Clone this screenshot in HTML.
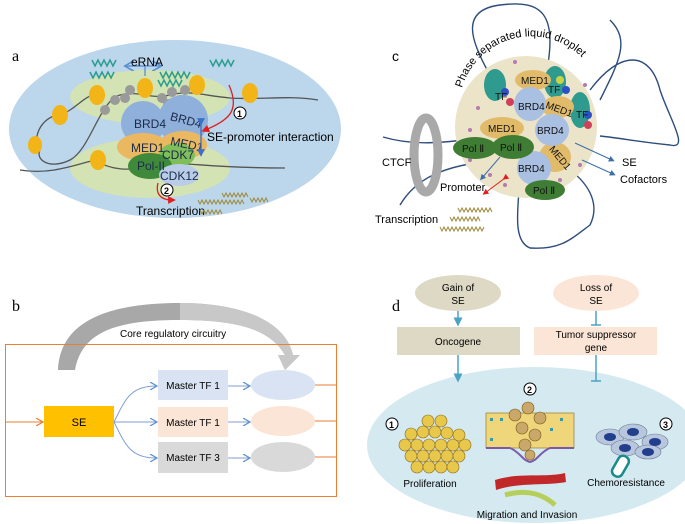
<!DOCTYPE html>
<html><head><meta charset="utf-8"><style>
html,body{margin:0;padding:0;background:#fff;}
svg{display:block;font-family:"Liberation Sans",sans-serif;}
</style></head><body>
<svg width="685" height="524" viewBox="0 0 685 524" xmlns="http://www.w3.org/2000/svg">
<defs>
<marker id="ab" markerWidth="8" markerHeight="8" refX="6" refY="4" orient="auto"><path d="M0,0 L7,4 L0,8" fill="none" stroke="#5b8fd0" stroke-width="1.2"/></marker>
<marker id="ao" markerWidth="8" markerHeight="8" refX="6" refY="4" orient="auto"><path d="M0,0 L7,4 L0,8" fill="none" stroke="#ed7d31" stroke-width="1.2"/></marker>
<marker id="at" markerWidth="6" markerHeight="6" refX="3" refY="3" orient="auto"><path d="M0,0 L6,3 L0,6z" fill="#4aa3c4"/></marker>
<marker id="ar" markerWidth="6" markerHeight="6" refX="3" refY="3" orient="auto"><path d="M0,0 L6,3 L0,6z" fill="#e02020"/></marker>
<marker id="ad" markerWidth="6" markerHeight="6" refX="3" refY="3" orient="auto"><path d="M0,0 L6,3 L0,6z" fill="#3d6fa8"/></marker>
<marker id="abl" markerWidth="6" markerHeight="6" refX="3" refY="3" orient="auto"><path d="M0,0 L6,3 L0,6z" fill="#3a70c8"/></marker>
<path id="arcp" d="M462,88 A72,72 0 0 1 592,70"/>
</defs>

<!-- PANEL A -->
<text x="12" y="61" font-family="Liberation Serif" font-size="16">a</text>
<ellipse cx="175" cy="129" rx="166" ry="89" fill="#bcd6eb"/>
<ellipse cx="150" cy="97" rx="80" ry="27" fill="#d3e3b3"/>
<ellipse cx="150" cy="168" rx="80" ry="30" fill="#d3e3b3"/>
<path d="M40,150 C35,160 50,170 70,160 C90,150 100,100 120,95 C140,90 150,100 170,95 C190,90 200,95 230,98 C260,100 290,95 318,100" fill="none" stroke="#555" stroke-width="1.3"/>
<path d="M40,150 C30,135 45,115 60,115 C75,110 85,95 95,95" fill="none" stroke="#555" stroke-width="1.3"/>
<path d="M20,170 C50,175 75,165 95,160 C110,170 130,172 150,165 C180,160 200,168 285,168" fill="none" stroke="#555" stroke-width="1.3"/>
<g fill="#f3b417"><ellipse cx="60" cy="115" rx="8" ry="10"/><ellipse cx="97" cy="95" rx="8" ry="10"/><ellipse cx="145" cy="88" rx="8" ry="10"/><ellipse cx="197" cy="85" rx="8" ry="10"/><ellipse cx="250" cy="93" rx="8" ry="10"/><ellipse cx="98" cy="160" rx="8" ry="10"/><ellipse cx="35" cy="145" rx="7" ry="9"/></g>
<g fill="#9a9a9a" font-size="5"><circle cx="105" cy="110" r="5"/><circle cx="115" cy="100" r="5"/><circle cx="125" cy="98" r="5"/><circle cx="130" cy="90" r="5"/><circle cx="162" cy="98" r="5"/><circle cx="172" cy="92" r="5"/><circle cx="168" cy="104" r="5"/><circle cx="180" cy="100" r="5"/><circle cx="185" cy="90" r="5"/></g>
<g stroke="#2a9d8f" stroke-width="1.5" fill="none"><path d="M92,60 l3,6 l3,-6 l3,6 l3,-6 l3,6 l3,-6 l3,6 l3,-6"/><path d="M90,72 l3,6 l3,-6 l3,6 l3,-6 l3,6 l3,-6 l3,6 l3,-6"/><path d="M160,72 l3,6 l3,-6 l3,6 l3,-6 l3,6 l3,-6 l3,6 l3,-6 l3,6 l3,-6"/><path d="M158,80 l3,6 l3,-6 l3,6 l3,-6 l3,6 l3,-6 l3,6 l3,-6"/><path d="M210,60 l3,6 l3,-6 l3,6 l3,-6 l3,6 l3,-6 l3,6 l3,-6"/></g>
<path d="M145,76 V66 H128 M145,66 H160" fill="none" stroke="#5b8fd0" stroke-width="1.3" marker-end="url(#ab)"/>
<path d="M145,66 H126" fill="none" stroke="#5b8fd0" stroke-width="1.3" marker-end="url(#ab)"/>
<text x="131" y="66" font-size="12">eRNA</text>
<circle cx="143" cy="123" r="22" fill="#8fb0db"/>
<circle cx="183" cy="120" r="25" fill="#8fb0db"/>
<ellipse cx="143" cy="147" rx="26" ry="14" fill="#e9b860"/>
<ellipse cx="183" cy="145" rx="24" ry="14" fill="#e9b860"/>
<ellipse cx="177" cy="155" rx="18" ry="12" fill="#7fbf5a"/>
<ellipse cx="150" cy="166" rx="22" ry="13" fill="#3f8a3a"/>
<ellipse cx="179" cy="175" rx="20" ry="11" fill="#b9cde8"/>
<g font-size="12" fill="#1b2a4a"><text x="134" y="128">BRD4</text><text x="170" y="124" transform="rotate(15 185 120)">BRD4</text><text x="131" y="152">MED1</text><text x="170" y="148" transform="rotate(12 185 145)">MED1</text><text x="162" y="159">CDK7</text><text x="137" y="170">Pol-II</text><text x="160" y="180">CDK12</text></g>
<path d="M201,122 V153" stroke="#3a70c8" stroke-width="1.3" marker-start="url(#abl)" marker-end="url(#abl)"/>
<path d="M229,85 C240,110 230,120 205,130" fill="none" stroke="#e02020" stroke-width="1.3" marker-end="url(#ar)"/>
<circle cx="240" cy="113" r="6" fill="#fff" stroke="#000"/><text x="237" y="117" font-size="9" font-weight="bold">1</text>
<text x="207" y="141" font-size="12">SE-promoter interaction</text>
<path d="M158,183 C155,195 162,200 172,200" fill="none" stroke="#e02020" stroke-width="1.3" marker-end="url(#ar)"/>
<circle cx="167" cy="190" r="6" fill="#fff" stroke="#000"/><text x="164" y="194" font-size="9" font-weight="bold">2</text>
<text x="136" y="215" font-size="12">Transcription</text>
<g stroke="#a08a3c" stroke-width="1" fill="none"><path d="M198,200 l2,4 l2,-4 l2,4 l2,-4 l2,4 l2,-4 l2,4 l2,-4 l2,4 l2,-4 l2,4 l2,-4 l2,4 l2,-4 l2,4 l2,-4 l2,4 l2,-4 l2,4 l2,-4 l2,4 l2,-4 l2,4"/><path d="M222,193 l2,4 l2,-4 l2,4 l2,-4 l2,4 l2,-4 l2,4 l2,-4 l2,4 l2,-4 l2,4 l2,-4 l2,4"/><path d="M200,210 l2,4 l2,-4 l2,4 l2,-4 l2,4 l2,-4 l2,4 l2,-4 l2,4 l2,-4 l2,4"/><path d="M250,198 l2,4 l2,-4 l2,4 l2,-4 l2,4 l2,-4 l2,4 l2,-4 l2,4"/></g>

<!-- PANEL C -->
<text x="392" y="61" font-size="14">c</text>
<g fill="none" stroke="#2d4d7c" stroke-width="1.4">
<path d="M490,75 C470,40 460,10 500,5 C540,0 560,10 545,80"/>
<path d="M590,90 C620,50 650,50 660,90 C670,120 690,150 670,145 C640,142 620,138 600,136"/>
<path d="M383,137 C410,145 440,145 495,135"/>
<path d="M400,205 C415,180 440,165 500,160"/>
<path d="M520,170 C520,200 510,240 530,248 C560,250 570,240 590,225 C600,205 590,185 570,170"/>
<path d="M600,100 C620,60 630,40 610,20"/>
</g>
<circle cx="526" cy="127" r="71" fill="#ece4c9"/>
<g fill="#b47bb0"><circle cx="478" cy="108" r="2"/><circle cx="470" cy="130" r="2"/><circle cx="490" cy="175" r="2"/><circle cx="505" cy="185" r="2"/><circle cx="560" cy="180" r="2"/><circle cx="580" cy="165" r="2"/><circle cx="515" cy="62" r="2"/><circle cx="585" cy="85" r="2"/><circle cx="470" cy="160" r="2"/><circle cx="550" cy="160" r="2"/></g>
<ellipse cx="495" cy="85" rx="11" ry="16" fill="#2f9a8e"/><ellipse cx="555" cy="82" rx="11" ry="16" fill="#2f9a8e"/><ellipse cx="580" cy="110" rx="10" ry="18" fill="#2f9a8e"/>
<g><circle cx="505" cy="92" r="4" fill="#2b50c8"/><circle cx="510" cy="102" r="4" fill="#d0405a"/><circle cx="566" cy="90" r="4" fill="#2b50c8"/><circle cx="560" cy="80" r="4" fill="#c9d24a"/><circle cx="588" cy="115" r="4" fill="#2b50c8"/><circle cx="588" cy="125" r="4" fill="#d0405a"/></g>
<ellipse cx="533" cy="80" rx="18" ry="10" fill="#e2bb6a"/><ellipse cx="558" cy="107" rx="16" ry="11" fill="#e2bb6a"/><ellipse cx="502" cy="128" rx="22" ry="11" fill="#e2bb6a"/><ellipse cx="555" cy="157" rx="16" ry="15" fill="#e2bb6a"/>
<ellipse cx="530" cy="104" rx="16" ry="17" fill="#a9c0e2"/><ellipse cx="552" cy="130" rx="17" ry="16" fill="#a9c0e2"/><ellipse cx="534" cy="168" rx="17" ry="17" fill="#a9c0e2"/>
<ellipse cx="475" cy="148" rx="22" ry="11" fill="#3f7c34"/><ellipse cx="513" cy="147" rx="21" ry="12" fill="#3f7c34"/><ellipse cx="545" cy="190" rx="20" ry="10" fill="#3f7c34"/>
<g font-size="10" fill="#111"><text x="521" y="84">MED1</text><text x="495" y="100">TF</text><text x="548" y="93">TF</text><text x="576" y="118">TF</text><text x="518" y="110">BRD4</text><text x="546" y="112" transform="rotate(20 558 107)">MED1</text><text x="488" y="132">MED1</text><text x="537" y="134">BRD4</text><text x="545" y="157" transform="rotate(50 555 157)">MED1</text><text x="518" y="172">BRD4</text><text x="462" y="152">Pol Ⅱ</text><text x="500" y="151">Pol Ⅱ</text><text x="533" y="194">Pol Ⅱ</text></g>
<text font-size="11"><textPath href="#arcp">Phase separated liquid droplet</textPath></text>
<ellipse cx="426" cy="155" rx="12" ry="37" fill="none" stroke="#a9a9a9" stroke-width="9"/>
<text x="382" y="166" font-size="11">CTCF</text>
<text x="440" y="191" font-size="11">Promoter</text>
<text x="375" y="223" font-size="11">Transcription</text>
<text x="622" y="166" font-size="11">SE</text>
<text x="620" y="183" font-size="11">Cofactors</text>
<path d="M500,157 L482,178" stroke="#3d6fa8" stroke-width="1" marker-end="url(#ad)"/>
<path d="M575,143 L612,160" stroke="#3d6fa8" stroke-width="1" marker-end="url(#ad)"/>
<path d="M582,160 L613,174" stroke="#3d6fa8" stroke-width="1" marker-end="url(#ad)"/>
<path d="M505,178 L485,193" stroke="#e02020" stroke-width="1" marker-end="url(#ar)" marker-start="url(#ar)"/>
<g stroke="#a08a3c" stroke-width="1" fill="none"><path d="M458,208 l2,4 l2,-4 l2,4 l2,-4 l2,4 l2,-4 l2,4 l2,-4 l2,4 l2,-4 l2,4 l2,-4 l2,4 l2,-4 l2,4 l2,-4 l2,4"/><path d="M450,217 l2,4 l2,-4 l2,4 l2,-4 l2,4 l2,-4 l2,4 l2,-4 l2,4 l2,-4 l2,4 l2,-4 l2,4 l2,-4 l2,4"/><path d="M440,227 l2,4 l2,-4 l2,4 l2,-4 l2,4 l2,-4 l2,4 l2,-4 l2,4 l2,-4 l2,4 l2,-4 l2,4 l2,-4 l2,4 l2,-4 l2,4 l2,-4 l2,4 l2,-4 l2,4 l2,-4"/></g>

<!-- PANEL B -->
<text x="12" y="311" font-family="Liberation Serif" font-size="16">b</text>
<path d="M58,370 C60,320 110,303 180,303 C240,303 285,320 293,355 L300,355 L285,370 L278,355 L285,355 C270,330 240,320 180,320 C120,320 82,330 75,370 Z" fill="#a8a8a8"/>
<path d="M180,303 C240,303 285,320 293,355 L300,355 L285,370 L278,355 L285,355 C270,330 240,320 180,320 Z" fill="#c8c8c8"/>
<text x="120" y="337" font-size="10">Core regulatory circuitry</text>
<rect x="5.5" y="344.5" width="331" height="152" fill="none" stroke="#ed7d31" stroke-width="1"/>
<path d="M5,422 H42" stroke="#ed7d31" stroke-width="1" marker-end="url(#ao)"/>
<rect x="44" y="406" width="70" height="31" fill="#ffc000"/>
<text x="79" y="426" font-size="11" text-anchor="middle">SE</text>
<rect x="158" y="370" width="70" height="30" fill="#dae3f3"/>
<rect x="158" y="407" width="70" height="30" fill="#fbe5d6"/>
<rect x="158" y="442" width="70" height="31" fill="#d9d9d9"/>
<g font-size="10" text-anchor="middle"><text x="193" y="389">Master TF 1</text><text x="193" y="426">Master TF 1</text><text x="193" y="461">Master TF 3</text></g>
<g fill="none" stroke="#7f9fd6" stroke-width="1"><path d="M114,422 C125,400 130,386 156,386" marker-end="url(#ab)"/><path d="M114,422 H156" marker-end="url(#ab)"/><path d="M114,422 C125,444 130,458 156,458" marker-end="url(#ab)"/><path d="M228,386 H249" marker-end="url(#ab)"/><path d="M228,422 H249" marker-end="url(#ab)"/><path d="M228,458 H249" marker-end="url(#ab)"/></g>
<ellipse cx="283" cy="385" rx="32" ry="15" fill="#dae3f3"/>
<ellipse cx="283" cy="421" rx="32" ry="15" fill="#fbe5d6"/>
<ellipse cx="283" cy="457" rx="32" ry="15" fill="#d9d9d9"/>
<g stroke="#ed7d31" stroke-width="1"><path d="M315,385 H336"/><path d="M315,421 H336"/><path d="M315,457 H336"/></g>

<!-- PANEL D -->
<text x="392" y="311" font-family="Liberation Serif" font-size="16">d</text>
<ellipse cx="535" cy="445" rx="168" ry="78" fill="#d5e9f1"/>
<ellipse cx="458" cy="293" rx="43" ry="18" fill="#ddd9c4"/>
<ellipse cx="596" cy="293" rx="43" ry="18" fill="#fbe5d6"/>
<g font-size="10" text-anchor="middle"><text x="458" y="291">Gain of</text><text x="458" y="304">SE</text><text x="596" y="291">Loss of</text><text x="596" y="304">SE</text></g>
<rect x="397" y="327" width="123" height="28" fill="#ddd9c4"/>
<rect x="534" y="327" width="123" height="28" fill="#fbe5d6"/>
<g font-size="10" text-anchor="middle"><text x="458" y="345">Oncogene</text><text x="596" y="338">Tumor suppressor</text><text x="596" y="351">gene</text></g>
<g stroke="#4aa3c4" stroke-width="1.5"><path d="M458,311 V322" marker-end="url(#at)"/><path d="M458,355 V378" marker-end="url(#at)"/><path d="M596,311 V325 M591,325 H601"/><path d="M596,355 V381 M591,381 H601"/></g>
<circle cx="392" cy="424" r="6" fill="#fff" stroke="#000"/><text x="389" y="428" font-size="9" font-weight="bold">1</text>
<circle cx="530" cy="389" r="6" fill="#fff" stroke="#000"/><text x="527" y="393" font-size="9" font-weight="bold">2</text>
<circle cx="666" cy="424" r="6" fill="#fff" stroke="#000"/><text x="663" y="428" font-size="9" font-weight="bold">3</text>
<g fill="#e8c84a" stroke="#8a6a20" stroke-width="0.6">
<circle cx="405" cy="445" r="6"/><circle cx="417" cy="445" r="6"/><circle cx="429" cy="445" r="6"/><circle cx="441" cy="445" r="6"/><circle cx="453" cy="445" r="6"/><circle cx="465" cy="445" r="6"/>
<circle cx="411" cy="456" r="6"/><circle cx="423" cy="456" r="6"/><circle cx="435" cy="456" r="6"/><circle cx="447" cy="456" r="6"/><circle cx="459" cy="456" r="6"/>
<circle cx="417" cy="467" r="6"/><circle cx="429" cy="467" r="6"/><circle cx="441" cy="467" r="6"/><circle cx="453" cy="467" r="6"/>
<circle cx="411" cy="434" r="6"/><circle cx="423" cy="432" r="6"/><circle cx="435" cy="432" r="6"/><circle cx="447" cy="433" r="6"/><circle cx="459" cy="435" r="6"/><circle cx="428" cy="421" r="6"/><circle cx="441" cy="421" r="6"/>
</g>
<rect x="486" y="413" width="88" height="35" fill="#f0d67a" stroke="#8a6a20" stroke-width="0.6"/>
<g fill="#2f9ab0"><rect x="490" y="418" width="3" height="3"/><rect x="500" y="418" width="3" height="3"/><rect x="560" y="418" width="3" height="3"/><rect x="550" y="428" width="3" height="3"/><rect x="490" y="438" width="3" height="3"/></g>
<g fill="#c9a86a" stroke="#7a5a20" stroke-width="0.6"><circle cx="515" cy="415" r="6"/><circle cx="528" cy="408" r="6"/><circle cx="540" cy="418" r="6"/><circle cx="522" cy="428" r="6"/><circle cx="535" cy="435" r="6"/><circle cx="525" cy="445" r="6"/><circle cx="530" cy="455" r="5"/></g>
<path d="M486,448 H510 C520,452 522,460 530,462 C538,460 540,452 550,448 H574" fill="none" stroke="#7a5aa8" stroke-width="2"/>
<path d="M495,480 C520,472 545,478 565,473 L566,482 C545,486 520,482 496,490 Z" fill="#c0282a"/>
<path d="M505,495 C530,488 545,496 555,505" fill="none" stroke="#b6cf5a" stroke-width="5"/>
<g fill="#b8c7dd" stroke="#6c7c94" stroke-width="0.6"><ellipse cx="610" cy="437" rx="14" ry="8"/><ellipse cx="633" cy="432" rx="14" ry="8"/><ellipse cx="655" cy="442" rx="13" ry="8"/><ellipse cx="625" cy="448" rx="14" ry="8"/><ellipse cx="648" cy="452" rx="13" ry="7"/></g>
<g fill="#233f8c"><ellipse cx="610" cy="437" rx="6" ry="4"/><ellipse cx="633" cy="432" rx="6" ry="4"/><ellipse cx="655" cy="442" rx="6" ry="4"/><ellipse cx="625" cy="448" rx="6" ry="4"/><ellipse cx="648" cy="452" rx="6" ry="4"/></g>
<rect x="615" y="455" width="11" height="22" rx="5" fill="#fff" stroke="#1a8a8a" stroke-width="2.5" transform="rotate(30 620 466)"/>
<text x="430" y="487" font-size="10" text-anchor="middle">Proliferation</text>
<text x="527" y="518" font-size="10" text-anchor="middle">Migration and Invasion</text>
<text x="626" y="486" font-size="10" text-anchor="middle">Chemoresistance</text>
</svg>
</body></html>
